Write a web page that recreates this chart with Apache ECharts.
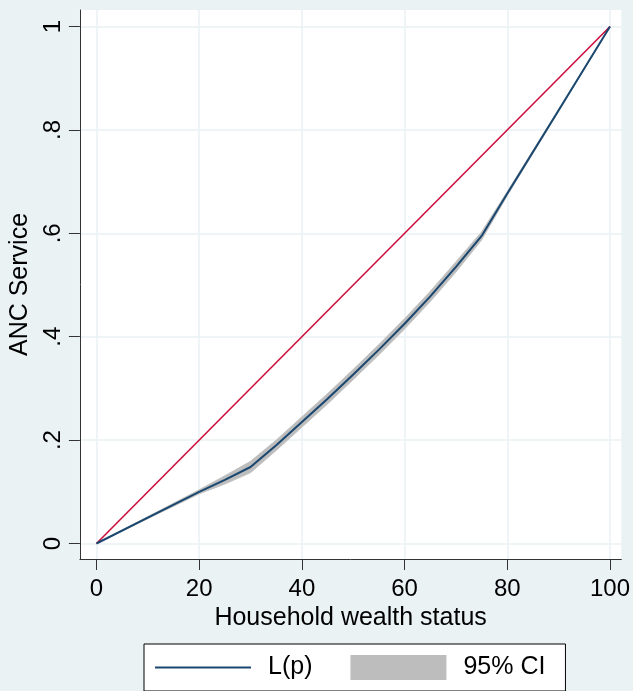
<!DOCTYPE html>
<html>
<head>
<meta charset="utf-8">
<title>Concentration curve - ANC Service</title>
<script src="https://cdn.jsdelivr.net/npm/echarts@6/dist/echarts.min.js"></script>
<style>
  html, body { margin: 0; padding: 0; background: #eaf2f3; }
  #chart { width: 633px; height: 691px; }
</style>
</head>
<body>
<div id="chart"></div>
<script>
// household wealth percentile (x) and cumulative share of ANC service (y)
const xPoints = [0, 10, 20, 25, 30, 35, 40, 45, 50, 55, 60, 65, 70, 75, 80, 90, 100];
const lorenz  = [0, 0.05, 0.10, 0.123, 0.148, 0.19, 0.235, 0.28, 0.327, 0.375, 0.425, 0.478, 0.535, 0.595, 0.677, 0.838, 1];
const ciLower = [0, 0.048, 0.096, 0.115, 0.137, 0.18, 0.225, 0.27, 0.317, 0.365, 0.415, 0.468, 0.525, 0.587, 0.673, 0.836, 1];
const ciUpper = [0, 0.052, 0.104, 0.131, 0.159, 0.2, 0.245, 0.29, 0.337, 0.385, 0.435, 0.488, 0.545, 0.603, 0.681, 0.84, 1];

// line of equality
const equalityX = [0, 100];
const equalityY = [0, 1];

// axis ticks
const xTickValues = [0, 20, 40, 60, 80, 100];
const yTickValues = [0, 0.2, 0.4, 0.6, 0.8, 1];
const yTickLabels = ['0', '.2', '.4', '.6', '.8', '1'];

const FONT = "'Liberation Sans', Arial, sans-serif";
const pairs = (xs, ys) => xs.map((x, i) => [x, ys[i]]);

const chartDom = document.getElementById('chart');
const myChart = echarts.init(chartDom);

// confidence band as one polygon: upper edge left->right, lower edge back
const renderBand = (params, api) => {
  if (params.dataIndex !== 0) return;
  const pts = [];
  for (let i = 0; i < xPoints.length; i++) pts.push(api.coord([xPoints[i], ciUpper[i]]));
  for (let i = xPoints.length - 1; i >= 0; i--) pts.push(api.coord([xPoints[i], ciLower[i]]));
  return {
    type: 'polygon',
    shape: { points: pts },
    style: { fill: '#bdbdbd', stroke: '#c4c4c4', lineWidth: 1 }
  };
};

const option = {
  backgroundColor: '#eaf2f3',
  animation: false,
  textStyle: { fontFamily: FONT },
  grid: {
    left: 78,
    right: 9,
    top: 10,
    bottom: 132,
    show: true,
    backgroundColor: '#ffffff',
    borderWidth: 0
  },
  legend: {
    left: 144,
    top: 644,
    orient: 'horizontal',
    backgroundColor: '#ffffff',
    borderColor: '#000000',
    borderWidth: 1,
    borderRadius: 0,
    padding: [11, 20, 11, 11],
    itemWidth: 96,
    itemHeight: 25,
    itemGap: 38,
    textStyle: { fontSize: 25, color: '#000', fontFamily: FONT, padding: [0, 0, 0, 12] },
    data: [
      {
        name: 'L(p)',
        icon: 'path://M0,0 M0,25 M0,11.5 L96,11.5 L96,13.5 L0,13.5 Z',
        itemStyle: { color: '#1a476f' }
      },
      { name: '95% CI', icon: 'rect', itemStyle: { color: '#bdbdbd' } }
    ]
  },
  xAxis: {
    type: 'value',
    min: -3.23,
    max: 102.2,
    name: 'Household wealth status',
    nameLocation: 'middle',
    nameGap: 43,
    nameTextStyle: { fontSize: 25, color: '#000', fontFamily: FONT },
    axisLine: { onZero: false, lineStyle: { color: '#333', width: 1 } },
    axisTick: { customValues: xTickValues, length: 11, lineStyle: { color: '#333' } },
    axisLabel: { customValues: xTickValues, fontSize: 24, color: '#000', margin: 18, fontFamily: FONT },
    splitLine: { show: true, lineStyle: { color: '#eaf2f3', width: 1.5 } }
  },
  yAxis: {
    type: 'value',
    min: -0.03,
    max: 1.032,
    name: 'ANC Service',
    nameLocation: 'middle',
    nameGap: 45,
    nameTextStyle: { fontSize: 25, color: '#000', fontFamily: FONT },
    axisLine: { onZero: false, lineStyle: { color: '#333', width: 1 } },
    axisTick: { customValues: yTickValues, length: 11, lineStyle: { color: '#333' } },
    axisLabel: {
      customValues: yTickValues,
      rotate: 90,
      fontSize: 24,
      color: '#000',
      margin: 15,
      fontFamily: FONT,
      formatter: (v) => {
        const i = yTickValues.findIndex(t => Math.abs(t - v) < 1e-9);
        return i >= 0 ? yTickLabels[i] : '';
      }
    },
    splitLine: { show: true, lineStyle: { color: '#eaf2f3', width: 1.5 } }
  },
  series: [
    {
      name: '95% CI',
      type: 'custom',
      silent: true,
      renderItem: renderBand,
      encode: { x: 0, y: [1, 2] },
      data: xPoints.map((x, i) => [x, ciLower[i], ciUpper[i]]),
      itemStyle: { color: '#bdbdbd' },
      z: 1
    },
    {
      name: 'Equality',
      type: 'line',
      symbol: 'none',
      silent: true,
      lineStyle: { color: '#cc0f3c', width: 1.6 },
      data: pairs(equalityX, equalityY),
      z: 2
    },
    {
      name: 'L(p)',
      type: 'line',
      symbol: 'none',
      silent: true,
      lineStyle: { color: '#1a476f', width: 2 },
      itemStyle: { color: '#1a476f' },
      data: pairs(xPoints, lorenz),
      z: 3
    }
  ]
};

myChart.setOption(option);

window.addEventListener('resize', () => myChart.resize());
</script>
</body>
</html>
